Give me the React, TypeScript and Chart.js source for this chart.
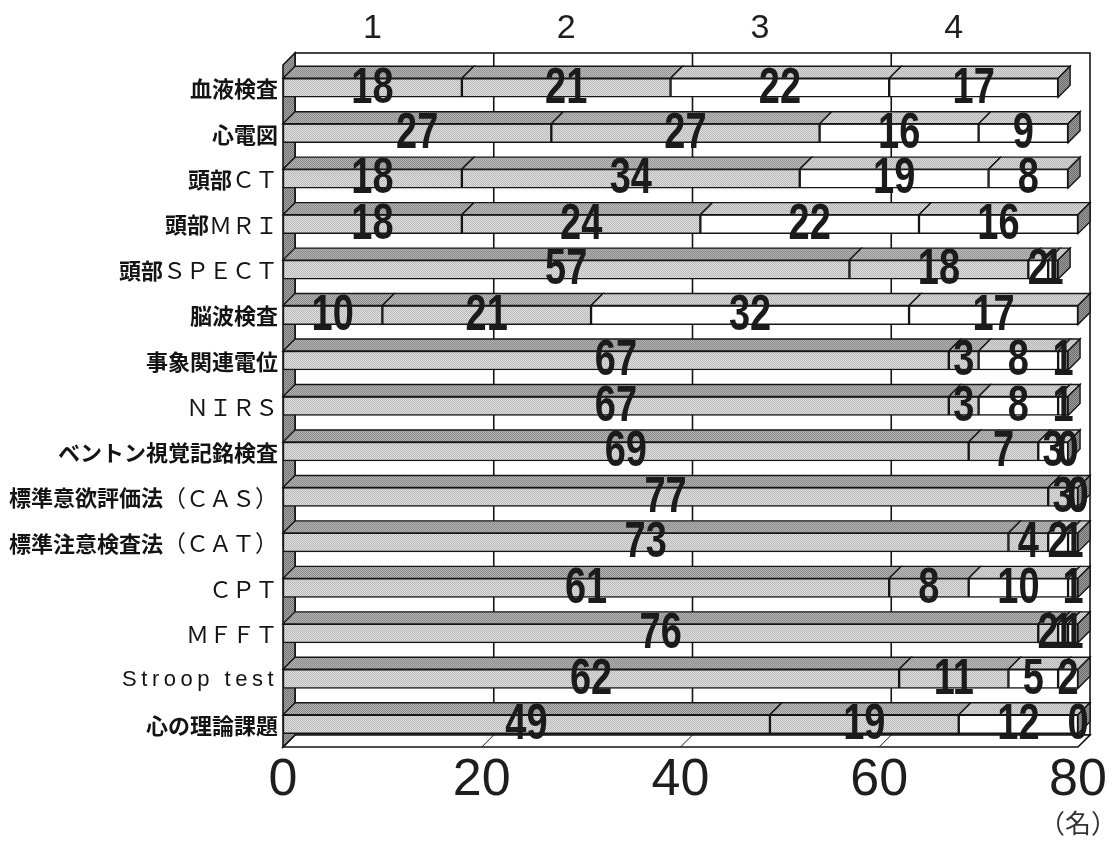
import React, { useEffect, useRef } from 'react';
import { Chart, registerables } from 'chart.js';

Chart.register(...registerables);

// Examinations (rows, top to bottom)
const categories = [
  '血液検査',
  '心電図',
  '頭部ＣＴ',
  '頭部ＭＲＩ',
  '頭部ＳＰＥＣＴ',
  '脳波検査',
  '事象関連電位',
  'ＮＩＲＳ',
  'ベントン視覚記銘検査',
  '標準意欲評価法（ＣＡＳ）',
  '標準注意検査法（ＣＡＴ）',
  'ＣＰＴ',
  'ＭＦＦＴ',
  'Stroop test',
  '心の理論課題',
];

// Respondent counts for answers 1–4
const answer1 = [18, 27, 18, 18, 57, 10, 67, 67, 69, 77, 73, 61, 76, 62, 49];
const answer2 = [21, 27, 34, 24, 18, 21, 3, 3, 7, 3, 4, 8, 2, 11, 19];
const answer3 = [22, 16, 19, 22, 2, 32, 8, 8, 3, 0, 2, 10, 1, 5, 12];
const answer4 = [17, 9, 8, 16, 1, 17, 1, 1, 0, 0, 1, 1, 1, 2, 0];

const answerNames = ['1', '2', '3', '4'];
// where the answer names sit along the top edge (in value units)
const answerNamePos = [9, 28.5, 48, 67.5];

const valueMin = 0;
const valueMax = 80;
const valueStep = 20;
const unitLabel = '（名）';

const DEPTH = 12;

function checker(a: string, b: string): CanvasPattern | string {
  const c = document.createElement('canvas');
  c.width = 2;
  c.height = 2;
  const g = c.getContext('2d');
  if (!g) return a;
  g.fillStyle = b;
  g.fillRect(0, 0, 2, 2);
  g.fillStyle = a;
  g.fillRect(0, 0, 1, 1);
  g.fillRect(1, 1, 1, 1);
  const p = g.createPattern(c, 'repeat');
  return p || a;
}

type Run = { text: string; kind: 'ascii' | 'fw' | 'cjk' };

function splitRuns(label: string): Run[] {
  const runs: Run[] = [];
  for (const ch of label) {
    const code = ch.charCodeAt(0);
    const kind: Run['kind'] = code < 0x2000 ? 'ascii' : code >= 0xff01 && code <= 0xff5e ? 'fw' : 'cjk';
    const last = runs[runs.length - 1];
    if (last && last.kind === kind) last.text += ch;
    else runs.push({ text: ch, kind });
  }
  return runs;
}

const RUN_FONT: Record<Run['kind'], string> = {
  cjk: 'bold 22px "Noto Sans CJK JP"',
  fw: '23px "Noto Sans CJK JP"',
  ascii: '22px "Liberation Sans"',
};
const ASCII_SPACING = 4.5;

function drawCategoryLabel(ctx: CanvasRenderingContext2D, label: string, right: number, y: number) {
  const runs = splitRuns(label);
  const widths = runs.map((r) => {
    ctx.font = RUN_FONT[r.kind];
    const w = ctx.measureText(r.text).width;
    return r.kind === 'ascii' ? w + ASCII_SPACING * r.text.length : w;
  });
  let x = right - widths.reduce((s, w) => s + w, 0);
  runs.forEach((r, i) => {
    ctx.font = RUN_FONT[r.kind];
    if (r.kind === 'ascii') {
      let cx = x;
      for (const ch of r.text) {
        ctx.fillText(ch, cx, y);
        cx += ctx.measureText(ch).width + ASCII_SPACING;
      }
    } else {
      ctx.fillText(r.text, x, y);
    }
    x += widths[i];
  });
}

export default function App() {
  const canvasRef = useRef<HTMLCanvasElement | null>(null);

  useEffect(() => {
    const canvas = canvasRef.current;
    if (!canvas) return;

    const frontGray = checker('#b8b8b8', '#e0e0e0');
    const frontWhite = '#ffffff';
    const topDark = checker('#8a8a8a', '#b4b4b4');
    const topMid = checker('#949494', '#bcbcbc');
    const topLight = checker('#b4b4b4', '#dadada');
    const sideDark = checker('#6c6c6c', '#9c9c9c');
    const wallDark = checker('#747474', '#a4a4a4');

    const fronts = [frontGray, frontGray, frontWhite, frontWhite];
    const tops = [topDark, topMid, topLight, topLight];
    const seriesData = [answer1, answer2, answer3, answer4];

    const box3d = {
      id: 'box3d',
      beforeDatasetsDraw(chart: any) {
        const { ctx, chartArea: a } = chart;
        const xs = chart.scales.x;
        const d = DEPTH;
        const inner = xs.ticks.map((t: any) => t.value).filter((v: number) => v > valueMin && v < valueMax);
        ctx.save();
        ctx.lineWidth = 1.6;
        ctx.strokeStyle = '#151515';
        ctx.lineJoin = 'miter';
        // back wall
        ctx.fillStyle = '#ffffff';
        ctx.fillRect(a.left + d, a.top - d, a.right - a.left, a.bottom - a.top);
        ctx.beginPath();
        inner.forEach((v: number) => {
          const px = xs.getPixelForValue(v) + d;
          ctx.moveTo(px, a.top - d);
          ctx.lineTo(px, a.bottom - d);
        });
        ctx.stroke();
        ctx.strokeRect(a.left + d, a.top - d, a.right - a.left, a.bottom - a.top);
        // bottom strip
        ctx.beginPath();
        ctx.moveTo(a.left, a.bottom);
        ctx.lineTo(a.left + d, a.bottom - d);
        ctx.lineTo(a.right + d, a.bottom - d);
        ctx.lineTo(a.right, a.bottom);
        ctx.closePath();
        ctx.fillStyle = '#ffffff';
        ctx.fill();
        ctx.stroke();
        ctx.beginPath();
        inner.forEach((v: number) => {
          const px = xs.getPixelForValue(v);
          ctx.moveTo(px, a.bottom);
          ctx.lineTo(px + d, a.bottom - d);
        });
        ctx.lineWidth = 1;
        ctx.stroke();
        ctx.lineWidth = 1.6;
        // left wall
        ctx.beginPath();
        ctx.moveTo(a.left, a.top);
        ctx.lineTo(a.left + d, a.top - d);
        ctx.lineTo(a.left + d, a.bottom - d);
        ctx.lineTo(a.left, a.bottom);
        ctx.closePath();
        ctx.fillStyle = wallDark;
        ctx.fill();
        ctx.stroke();
        ctx.restore();
      },
      afterDatasetsDraw(chart: any) {
        const { ctx, chartArea: a } = chart;
        const d = DEPTH;
        const metas = chart.getSortedVisibleDatasetMetas();
        ctx.save();
        ctx.lineWidth = 1.4;
        ctx.strokeStyle = '#151515';
        ctx.lineJoin = 'miter';
        for (let i = 0; i < categories.length; i++) {
          let end = -Infinity;
          let top = 0;
          let bottom = 0;
          metas.forEach((meta: any, k: number) => {
            const p = meta.data[i].getProps(['x', 'y', 'base', 'height'], true);
            const x0 = Math.min(p.base, p.x);
            const x1 = Math.max(p.base, p.x);
            top = p.y - p.height / 2;
            bottom = p.y + p.height / 2;
            if (x1 - x0 > 0.5) {
              ctx.beginPath();
              ctx.moveTo(x0, top);
              ctx.lineTo(x1, top);
              ctx.lineTo(x1 + d, top - d);
              ctx.lineTo(x0 + d, top - d);
              ctx.closePath();
              ctx.fillStyle = tops[k];
              ctx.fill();
              ctx.stroke();
            }
            end = Math.max(end, x1);
          });
          // end cap
          ctx.beginPath();
          ctx.moveTo(end, top);
          ctx.lineTo(end + d, top - d);
          ctx.lineTo(end + d, bottom - d);
          ctx.lineTo(end, bottom);
          ctx.closePath();
          ctx.fillStyle = sideDark;
          ctx.fill();
          ctx.stroke();
        }

        // value labels
        ctx.fillStyle = '#1b1b1b';
        ctx.textAlign = 'center';
        ctx.textBaseline = 'middle';
        ctx.font = 'bold 50px "Liberation Sans"';
        metas.forEach((meta: any, k: number) => {
          meta.data.forEach((bar: any, i: number) => {
            const p = bar.getProps(['x', 'y', 'base'], true);
            const cx = (p.x + p.base) / 2;
            ctx.save();
            ctx.translate(cx, p.y + 1);
            ctx.scale(0.76, 1);
            ctx.fillText(String(seriesData[k][i]), 0, 0);
            ctx.restore();
          });
        });

        // category labels
        const ys = chart.scales.y;
        ctx.fillStyle = '#141414';
        ctx.textAlign = 'left';
        ctx.textBaseline = 'middle';
        categories.forEach((label, i) => {
          drawCategoryLabel(ctx, label, a.left - 5, ys.getPixelForValue(i) + 1);
        });

        // unit
        const xs = chart.scales.x;
        ctx.font = '26px "Noto Sans CJK JP"';
        ctx.textAlign = 'center';
        ctx.fillStyle = '#333333';
        ctx.fillText(unitLabel, xs.getPixelForValue(valueMax), 823);
        ctx.restore();
      },
    };

    const chart = new Chart(canvas, {
      type: 'bar',
      data: {
        labels: categories,
        datasets: seriesData.map((values, k) => ({
          label: answerNames[k],
          data: values,
          backgroundColor: fronts[k] as any,
          borderColor: '#151515',
          borderWidth: 1.5,
          borderSkipped: false,
          barThickness: 19,
          xAxisID: 'x',
          yAxisID: 'y',
        })),
      },
      options: {
        indexAxis: 'y',
        responsive: false,
        animation: false,
        layout: { padding: { left: 0, right: 34, top: 0, bottom: 0 } },
        plugins: {
          legend: { display: false },
          tooltip: { enabled: false },
        },
        scales: {
          x: {
            type: 'linear',
            position: 'bottom',
            stacked: true,
            min: valueMin,
            max: valueMax,
            grid: { display: false, drawTicks: false },
            border: { display: false },
            ticks: {
              stepSize: valueStep,
              padding: 2,
              color: '#1e1e1e',
              font: { family: '"Liberation Sans"', size: 52, weight: 'normal' },
            },
            afterFit: (s: any) => {
              s.height = 96;
            },
          },
          x2: {
            type: 'linear',
            position: 'top',
            min: valueMin,
            max: valueMax,
            grid: { display: false, drawTicks: false },
            border: { display: false },
            afterBuildTicks: (s: any) => {
              s.ticks = answerNamePos.map((v) => ({ value: v }));
            },
            ticks: {
              padding: 16,
              color: '#1e1e1e',
              font: { family: '"Liberation Sans"', size: 34, weight: 'normal' },
              callback: (_v: any, i: number) => answerNames[i],
            },
            afterFit: (s: any) => {
              s.height = 65;
            },
          },
          y: {
            type: 'category',
            stacked: true,
            grid: { display: false, drawTicks: false },
            border: { display: false },
            ticks: { display: false },
            afterFit: (s: any) => {
              s.width = 283;
            },
          },
        },
      },
      plugins: [box3d],
    } as any);

    return () => chart.destroy();
  }, []);

  return (
    <div style={{ position: 'absolute', left: 0, top: 0, width: 1112, height: 843, background: '#ffffff' }}>
      <canvas ref={canvasRef} width={1112} height={843} style={{ display: 'block' }} />
    </div>
  );
}
